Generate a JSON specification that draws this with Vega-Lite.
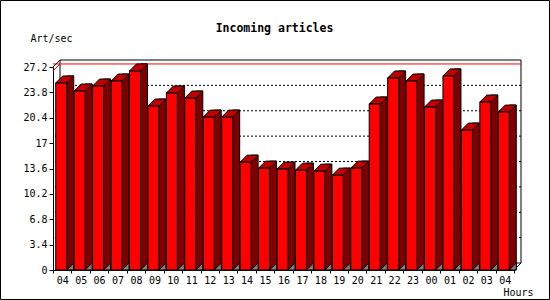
{
  "$schema": "https://vega.github.io/schema/vega-lite/v6.json",
  "width": 461,
  "height": 203,
  "autosize": "none",
  "padding": {"left": 53, "top": 67, "right": 36, "bottom": 30},
  "background": "white",
  "config": {"view": {"stroke": null}, "font": "DejaVu Sans Mono"},
  "datasets": {
    "hours": [
      {"slot": "1-04", "v": 25.06},
      {"slot": "1-05", "v": 23.98},
      {"slot": "1-06", "v": 24.65},
      {"slot": "1-07", "v": 25.32},
      {"slot": "1-08", "v": 26.67},
      {"slot": "1-09", "v": 21.97},
      {"slot": "1-10", "v": 23.71},
      {"slot": "1-11", "v": 23.04},
      {"slot": "1-12", "v": 20.49},
      {"slot": "1-13", "v": 20.49},
      {"slot": "1-14", "v": 14.45},
      {"slot": "1-15", "v": 13.65},
      {"slot": "1-16", "v": 13.51},
      {"slot": "1-17", "v": 13.38},
      {"slot": "1-18", "v": 13.24},
      {"slot": "1-19", "v": 12.71},
      {"slot": "1-20", "v": 13.65},
      {"slot": "1-21", "v": 22.24},
      {"slot": "1-22", "v": 25.73},
      {"slot": "1-23", "v": 25.32},
      {"slot": "2-00", "v": 21.83},
      {"slot": "2-01", "v": 26.0},
      {"slot": "2-02", "v": 18.75},
      {"slot": "2-03", "v": 22.5},
      {"slot": "2-04", "v": 21.16}
    ],
    "ticks": [
      {"g": 3.4}, {"g": 6.8}, {"g": 10.2}, {"g": 13.6}, {"g": 17}, {"g": 20.4}, {"g": 23.8}
    ],
    "one": [{"k": 1}]
  },
  "resolve": {"axis": {"x": "independent", "y": "independent"}},
  "layer": [
    {
      "data": {"name": "one"},
      "mark": {"type": "rect", "fill": null, "stroke": "black", "strokeWidth": 1,
               "xOffset": -52.5, "x2Offset": 35.5, "yOffset": -66.5, "y2Offset": 29.5},
      "encoding": {
        "x": {"value": 0}, "x2": {"value": "width"},
        "y": {"value": 0}, "y2": {"value": "height"}
      }
    },
    {
      "data": {"name": "ticks"},
      "mark": {"type": "rule", "color": "black", "strokeWidth": 1, "strokeDash": [2, 2],
               "xOffset": 7, "x2Offset": 7, "yOffset": -7, "y2Offset": -7},
      "encoding": {
        "y": {"field": "g", "type": "quantitative",
              "axis": {"orient": "right", "labels": false, "ticks": false, "domain": false, "grid": false,
                       "title": "Incoming articles", "titleAngle": 0, "titleAlign": "center",
                       "titleBaseline": "alphabetic", "titleX": -240, "titleY": -36,
                       "titleFont": "DejaVu Sans Mono", "titleFontSize": 11.5, "titleFontWeight": "bold",
                       "titleColor": "black"}}
      }
    },
    {
      "data": {"name": "one"},
      "mark": {"type": "rect", "fill": null, "stroke": "black", "strokeWidth": 1,
               "xOffset": 7, "x2Offset": 7, "yOffset": -7, "y2Offset": -7},
      "encoding": {
        "x": {"value": 0}, "x2": {"value": "width"},
        "y": {"datum": 27.2, "type": "quantitative", "axis": null},
        "y2": {"datum": 0}
      }
    },
    {
      "data": {"name": "hours"},
      "mark": {"type": "rule", "color": "#ff0000", "strokeWidth": 1,
               "xOffset": 7, "x2Offset": 7, "yOffset": -7, "y2Offset": -7},
      "encoding": {
        "y": {"aggregate": "max", "field": "v", "type": "quantitative", "axis": null}
      }
    },
    {
      "data": {"name": "hours"},
      "mark": {"type": "point", "shape": "M0,0L7,-7", "size": 4, "filled": false, "fill": null,
               "stroke": "#ff0000", "strokeWidth": 1, "opacity": 1},
      "encoding": {
        "x": {"datum": "1-04", "type": "nominal", "bandPosition": 0, "axis": null},
        "y": {"aggregate": "max", "field": "v", "type": "quantitative", "axis": null}
      }
    },
    {
      "data": {"name": "one"},
      "mark": {"type": "point", "shape": "M0,0L7,-7", "size": 4, "filled": false, "fill": null,
               "stroke": "black", "strokeWidth": 1, "opacity": 1},
      "encoding": {
        "x": {"datum": "1-04", "type": "nominal", "bandPosition": 0, "axis": null},
        "y": {"datum": 27.2, "type": "quantitative", "axis": null}
      }
    },
    {
      "data": {"name": "one"},
      "mark": {"type": "point", "shape": "M0,0L7,-7", "size": 4, "filled": false, "fill": null,
               "stroke": "black", "strokeWidth": 1, "opacity": 1},
      "encoding": {
        "x": {"datum": "2-04", "type": "nominal", "bandPosition": 1, "axis": null},
        "y": {"datum": 0, "type": "quantitative", "axis": null}
      }
    },
    {
      "data": {"name": "hours"},
      "mark": {"type": "bar", "width": 7, "xOffset": 8, "yOffset": -7,
               "fill": "#800000", "stroke": "black", "strokeWidth": 1},
      "encoding": {
        "x": {"field": "slot", "type": "nominal", "sort": null, "axis": null},
        "y": {"field": "v", "type": "quantitative", "axis": null},
        "y2": {"datum": 0}
      }
    },
    {
      "data": {"name": "hours"},
      "mark": {"type": "point", "shape": "M5.5,0L12.5,0L12.5,-7Z", "size": 4, "filled": true,
               "fill": "#808080", "stroke": "black", "strokeWidth": 1, "opacity": 1, "xOffset": -1},
      "encoding": {
        "x": {"field": "slot", "type": "nominal", "sort": null, "axis": null},
        "y": {"datum": 0, "type": "quantitative", "axis": null}
      }
    },
    {
      "data": {"name": "hours"},
      "mark": {"type": "point", "shape": "M-5.5,0L5.5,0L12.5,-7L1.5,-7Z", "size": 4, "filled": true,
               "fill": "#c00000", "stroke": "black", "strokeWidth": 1, "opacity": 1, "xOffset": -1},
      "encoding": {
        "x": {"field": "slot", "type": "nominal", "sort": null, "axis": null},
        "y": {"field": "v", "type": "quantitative", "axis": null}
      }
    },
    {
      "data": {"name": "hours"},
      "mark": {"type": "bar", "width": 11, "xOffset": -1, "fill": "#ff0000", "stroke": "black", "strokeWidth": 1},
      "encoding": {
        "x": {"field": "slot", "type": "nominal", "sort": null,
              "scale": {"paddingInner": 0, "paddingOuter": 0,
                        "domain": ["1-04", "1-05", "1-06", "1-07", "1-08", "1-09", "1-10", "1-11", "1-12", "1-13", "1-14", "1-15", "1-16", "1-17", "1-18", "1-19", "1-20", "1-21", "1-22", "1-23", "2-00", "2-01", "2-02", "2-03", "2-04"]},
              "axis": {"orient": "bottom", "tickBand": "extent", "labelAngle": 0, "labelExpr": "split(datum.value, '-')[1]",
                       "tickSize": 3, "labelPadding": 2, "labelFont": "DejaVu Sans Mono", "labelFontSize": 10,
                       "labelColor": "black", "domainColor": "black", "tickColor": "black", "grid": false,
                       "title": "Hours", "titleX": 450, "titleY": 25, "titleAlign": "left",
                       "titleBaseline": "alphabetic", "titleFont": "DejaVu Sans Mono", "titleFontSize": 10,
                       "titleFontWeight": "normal", "titleColor": "black"}},
        "y": {"field": "v", "type": "quantitative",
              "scale": {"domain": [0, 27.2], "nice": false, "zero": true},
              "axis": {"orient": "left", "values": [0, 3.4, 6.8, 10.2, 13.6, 17, 20.4, 23.8, 27.2],
                       "labelExpr": "'' + datum.value", "grid": false, "tickSize": 4, "labelPadding": 2,
                       "labelFont": "DejaVu Sans Mono", "labelFontSize": 10, "labelColor": "black",
                       "labelFlush": false, "labelOverlap": false,
                       "domainColor": "black", "tickColor": "black",
                       "title": "Art/sec", "titleAngle": 0, "titleAlign": "left", "titleBaseline": "alphabetic",
                       "titleX": -23, "titleY": -26, "titleFont": "DejaVu Sans Mono", "titleFontSize": 10,
                       "titleFontWeight": "normal", "titleColor": "black"}}
      }
    }
  ]
}
